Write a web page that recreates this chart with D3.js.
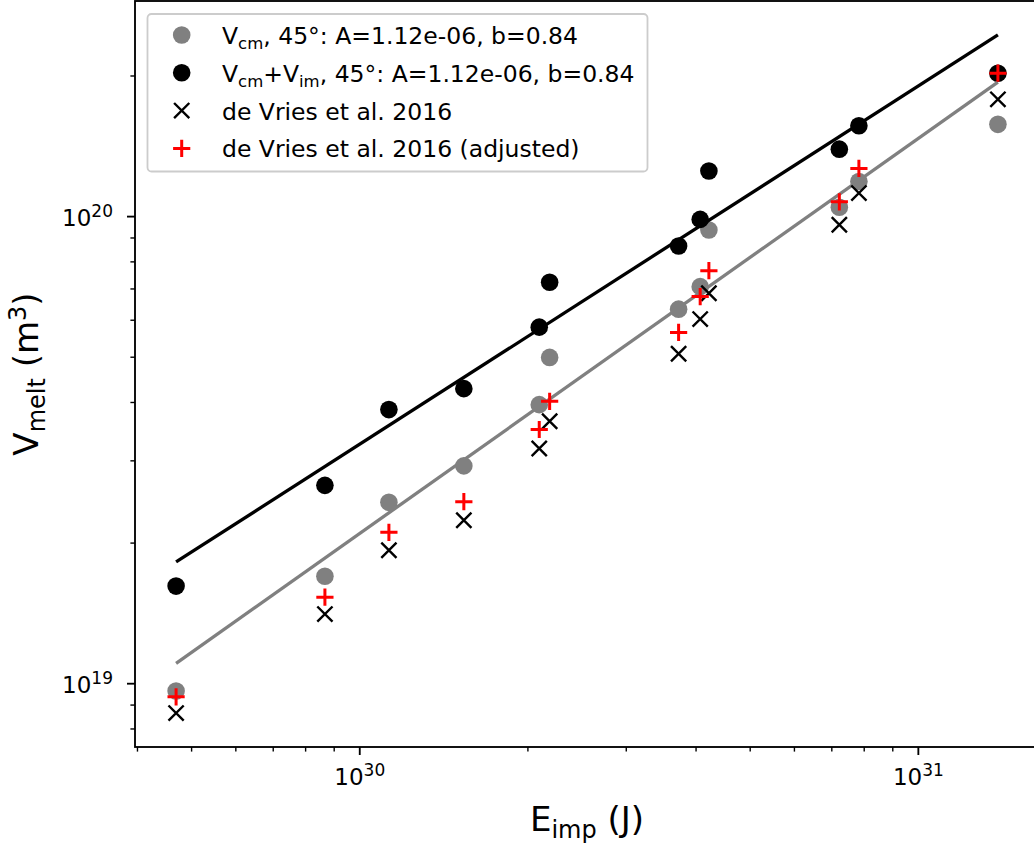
<!DOCTYPE html>
<html>
<head>
<meta charset="utf-8">
<script src="https://cdn.jsdelivr.net/npm/d3@7"></script>
<style>
  html, body { margin: 0; padding: 0; background: #fff; }
  svg { display: block; font-family: "DejaVu Sans", sans-serif; }
</style>
</head>
<body>
<svg id="chart" width="1034" height="848"></svg>
<script>
// Impact energy (J) for each simulation
const energy = [4.70e29, 8.68e29, 1.130e30, 1.539e30, 2.100e30, 2.192e30,
                3.730e30, 4.077e30, 4.226e30, 7.235e30, 7.843e30, 1.391e31];
// Melt volumes (m^3)
const vCm      = [9.62e18, 1.694e19, 2.439e19, 2.919e19, 3.948e19, 4.983e19,
                  6.321e19, 7.063e19, 9.335e19, 1.045e20, 1.186e20, 1.572e20];
const vCmIm    = [1.614e19, 2.652e19, 3.853e19, 4.272e19, 5.785e19, 7.218e19,
                  8.63e19, 9.84e19, 1.249e20, 1.391e20, 1.561e20, 2.023e20];
const deVries  = [8.63e18, 1.406e19, 1.926e19, 2.233e19, 3.181e19, 3.638e19,
                  5.074e19, 6.018e19, 6.838e19, 9.58e19, 1.120e20, 1.778e20];
const deVriesAdj = [9.35e18, 1.528e19, 2.104e19, 2.447e19, 3.493e19, 4.013e19,
                    5.635e19, 6.725e19, 7.641e19, 1.073e20, 1.265e20, 2.023e20];
// Power-law fit lines, evaluated at the ends of the energy range
const fitEnergy = [4.70e29, 1.391e31];
const fitVCm    = [1.103e19, 1.936e20];
const fitVCmIm  = [1.818e19, 2.443e20];

// Axis ticks
const xMajor = [1e30, 1e31];
const xMajorLabels = [["10", "30"], ["10", "31"]];
const yMajor = [1e19, 1e20];
const yMajorLabels = [["10", "19"], ["10", "20"]];

const legendEntries = [
  { kind: "circle", color: "#808080", parts: [["V",""],["cm","sub"],[", 45°: A=1.12e-06, b=0.84",""]] },
  { kind: "circle", color: "#000000", parts: [["V",""],["cm","sub"],["+V",""],["im","sub"],[", 45°: A=1.12e-06, b=0.84",""]] },
  { kind: "x", color: "#000000", parts: [["de Vries et al. 2016",""]] },
  { kind: "plus", color: "#ff0000", parts: [["de Vries et al. 2016 (adjusted)",""]] }
];

const svg = d3.select("#chart");
const plotLeft = 135, plotRight = 1039, plotTop = 1, plotBottom = 747;

// Log-space limits with 5% padding around all drawn data
function paddedLog(vals) {
  const lo = Math.log10(d3.min(vals)), hi = Math.log10(d3.max(vals));
  const pad = (hi - lo) * 0.05;
  return [Math.pow(10, lo - pad), Math.pow(10, hi + pad)];
}
const x = d3.scaleLog().domain(paddedLog(energy.concat(fitEnergy))).range([plotLeft, plotRight]);
const y = d3.scaleLog().domain(paddedLog([].concat(vCm, vCmIm, deVries, deVriesAdj, fitVCm, fitVCmIm))).range([plotBottom, plotTop]);

function minorTicks(scale) {
  const [a, b] = scale.domain();
  const out = [];
  for (let e = Math.floor(Math.log10(a)); e <= Math.ceil(Math.log10(b)); e++) {
    for (let m = 2; m <= 9; m++) {
      const v = m * Math.pow(10, e);
      if (v >= a && v <= b) out.push(v);
    }
  }
  return out;
}

const plot = svg.append("g");

// Axes
const gx = svg.append("g").attr("transform", `translate(0,${plotBottom})`);
gx.call(d3.axisBottom(x).tickValues(minorTicks(x)).tickSize(4.6).tickFormat(""))
  .call(g => g.select(".domain").remove())
  .call(g => g.selectAll("line").attr("stroke-width", 1.4));
const gxM = svg.append("g").attr("transform", `translate(0,${plotBottom})`);
gxM.call(d3.axisBottom(x).tickValues(xMajor).tickSize(8).tickFormat(""))
  .call(g => g.select(".domain").remove())
  .call(g => g.selectAll("line").attr("stroke-width", 1.85));
gxM.selectAll(".tick text").each(function(d, i) {
  const t = d3.select(this).attr("font-size", 23).attr("fill", "#000").attr("dy", null)
    .attr("y", 38).attr("font-family", "DejaVu Sans");
  t.append("tspan").text(xMajorLabels[i][0]);
  t.append("tspan").attr("font-size", 17).attr("dy", -9).text(xMajorLabels[i][1]);
});

const gy = svg.append("g").attr("transform", `translate(${plotLeft},0)`);
gy.call(d3.axisLeft(y).tickValues(minorTicks(y)).tickSize(4.6).tickFormat(""))
  .call(g => g.select(".domain").remove())
  .call(g => g.selectAll("line").attr("stroke-width", 1.4));
const gyM = svg.append("g").attr("transform", `translate(${plotLeft},0)`);
gyM.call(d3.axisLeft(y).tickValues(yMajor).tickSize(8).tickPadding(14).tickFormat(""))
  .call(g => g.select(".domain").remove())
  .call(g => g.selectAll("line").attr("stroke-width", 1.85));
gyM.selectAll(".tick text").each(function(d, i) {
  const t = d3.select(this).attr("font-size", 23).attr("fill", "#000").attr("dy", null)
    .attr("y", 9).attr("font-family", "DejaVu Sans");
  t.append("tspan").text(yMajorLabels[i][0]);
  t.append("tspan").attr("font-size", 17).attr("dy", -9).text(yMajorLabels[i][1]);
});

// Frame
svg.append("rect").attr("x", plotLeft).attr("y", plotTop)
  .attr("width", plotRight - plotLeft).attr("height", plotBottom - plotTop)
  .attr("fill", "none").attr("stroke", "#000").attr("stroke-width", 1.85);

// Marker drawers
function drawCircles(vals, color) {
  plot.append("g").selectAll("circle").data(vals).join("circle")
    .attr("cx", (d, i) => x(energy[i])).attr("cy", d => y(d))
    .attr("r", 8.8).attr("fill", color);
}
function crossPath(cx, cy, s) {
  return `M${cx - s},${cy - s}L${cx + s},${cy + s}M${cx - s},${cy + s}L${cx + s},${cy - s}`;
}
function plusPath(cx, cy, s) {
  return `M${cx - s},${cy}L${cx + s},${cy}M${cx},${cy - s}L${cx},${cy + s}`;
}
function drawCrosses(vals, color) {
  plot.append("g").selectAll("path").data(vals).join("path")
    .attr("d", (d, i) => crossPath(x(energy[i]), y(d), 7.6))
    .attr("stroke", color).attr("stroke-width", 2.4).attr("fill", "none");
}
function drawPluses(vals, color) {
  plot.append("g").selectAll("path").data(vals).join("path")
    .attr("d", (d, i) => plusPath(x(energy[i]), y(d), 8.6))
    .attr("stroke", color).attr("stroke-width", 3).attr("fill", "none");
}

const line = d3.line().x(d => x(d[0])).y(d => y(d[1]));

drawCircles(vCm, "#808080");
drawCircles(vCmIm, "#000000");
plot.append("path").attr("d", line(fitEnergy.map((e, i) => [e, fitVCm[i]])))
  .attr("stroke", "#808080").attr("stroke-width", 3.3).attr("fill", "none");
plot.append("path").attr("d", line(fitEnergy.map((e, i) => [e, fitVCmIm[i]])))
  .attr("stroke", "#000000").attr("stroke-width", 3.3).attr("fill", "none");
drawCrosses(deVries, "#000000");
drawPluses(deVriesAdj, "#ff0000");

// Legend
const lg = svg.append("g");
lg.append("rect").attr("x", 147.5).attr("y", 14).attr("width", 500).attr("height", 157.5)
  .attr("rx", 4).attr("fill", "#fff").attr("fill-opacity", 0.8)
  .attr("stroke", "#cccccc").attr("stroke-width", 1.8);
legendEntries.forEach((e, i) => {
  const cy = 35 + i * 37.8, mx = 181.7;
  if (e.kind === "circle") lg.append("circle").attr("cx", mx).attr("cy", cy).attr("r", 8.8).attr("fill", e.color);
  if (e.kind === "x") lg.append("path").attr("d", crossPath(mx, cy, 7.6)).attr("stroke", e.color).attr("stroke-width", 2.4);
  if (e.kind === "plus") lg.append("path").attr("d", plusPath(mx, cy, 8.6)).attr("stroke", e.color).attr("stroke-width", 3);
  const t = lg.append("text").attr("x", 222).attr("y", cy + 9).attr("font-size", 23.5).attr("fill", "#000");
  let shifted = false;
  e.parts.forEach(([s, k]) => {
    const sp = t.append("tspan").text(s);
    if (k === "sub") { sp.attr("font-size", 16.5); if (!shifted) { sp.attr("dy", 5); shifted = true; } }
    else if (shifted) { sp.attr("dy", -5); shifted = false; }
  });
});

// Axis titles
const xt = svg.append("text").attr("x", (plotLeft + plotRight) / 2).attr("y", 831)
  .attr("text-anchor", "middle").attr("font-size", 34).attr("fill", "#000");
xt.append("tspan").text("E");
xt.append("tspan").attr("font-size", 24).attr("dy", 7).text("imp");
xt.append("tspan").attr("dy", -7).text(" (J)");

const yt = svg.append("text").attr("transform", `translate(38,${(plotTop + plotBottom) / 2}) rotate(-90)`)
  .attr("text-anchor", "middle").attr("font-size", 34).attr("fill", "#000");
yt.append("tspan").text("V");
yt.append("tspan").attr("font-size", 24).attr("dy", 7).text("melt");
yt.append("tspan").attr("dy", -7).text(" (m");
yt.append("tspan").attr("font-size", 24).attr("dy", -12).text("3");
yt.append("tspan").attr("dy", 12).text(")");
</script>
</body>
</html>
